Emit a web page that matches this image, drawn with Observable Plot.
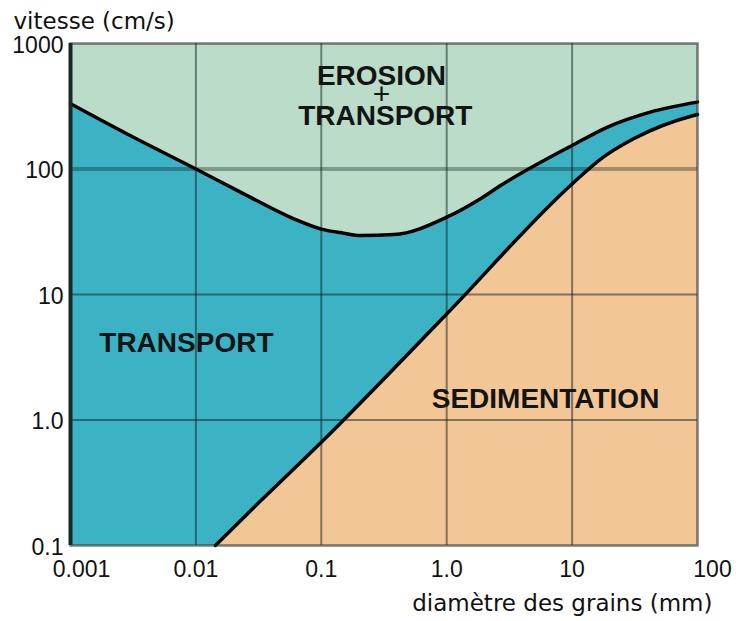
<!DOCTYPE html>
<html>
<head>
<meta charset="utf-8">
<script src="https://cdn.jsdelivr.net/npm/d3@7"></script>
<script src="https://cdn.jsdelivr.net/npm/@observablehq/plot@0.6"></script>
<style>
  body { margin: 0; background: #fff; }
  g[aria-label="titre"] text { letter-spacing: 1.4px; }
  g[aria-label="zones"] text { letter-spacing: 0.6px; }
</style>
</head>
<body>
<div id="chart"></div>
<script>
// Courbe d'érosion (limite supérieure)
const upperX = [0.001, 0.00283, 0.01, 0.0241, 0.0604, 0.1, 0.15, 0.206, 0.38, 1, 1.86, 2.69, 10, 19, 42, 100];
const upperY = [331, 190, 100, 63.4, 40.1, 33.2, 30.8, 29.5, 30, 41.3, 58, 73.8, 154, 215, 284, 341];
// Courbe de sédimentation (limite inférieure)
const lowerX = [0.0143, 0.0327, 0.1, 1, 10, 16.9, 30.9, 93, 100];
const lowerY = [0.1, 0.226, 0.665, 7.0, 76, 120, 174, 267, 272];

const xTicks = [0.001, 0.01, 0.1, 1, 10, 100];
const xTickLabels = ["0.001", "0.01", "0.1", "1.0", "10", "100"];
const yTicks = [0.1, 1, 10, 100, 1000];
const yTickLabels = ["0.1", "1.0", "10", "100", "1000"];

const zoneLabels = ["EROSION", "TRANSPORT", "TRANSPORT", "SEDIMENTATION"];
const zoneX = [0.302, 0.324, 0.0084, 6.14];
const zoneY = [546, 262, 4.07, 1.46];
const plusLabel = ["+"];
const plusX = [0.302];
const plusY = [390];

const yTitle = "vitesse (cm/s)";
const xTitle = "diamètre des grains (mm)";

const upper = upperX.map((x, i) => ({x, y: upperY[i]}));
const lower = lowerX.map((x, i) => ({x, y: lowerY[i]}));
const zones = zoneLabels.map((t, i) => ({t, x: zoneX[i], y: zoneY[i]}));
const plus = plusLabel.map((t, i) => ({t, x: plusX[i], y: plusY[i]}));

const xFmt = d => xTickLabels[xTicks.indexOf(d)];
const yFmt = d => yTickLabels[yTicks.indexOf(d)];
const axisOpts = {tickSize: 0, fontSize: 23, label: null, fill: "#111"};
const grid = {stroke: "#0f1f1f", strokeOpacity: 0.5, strokeWidth: 2};
const curve = "monotone-x";

const chart = Plot.plot({
  width: 736,
  height: 621,
  marginLeft: 70,
  marginRight: 39,
  marginTop: 43,
  marginBottom: 76,
  style: {background: "#fff", fontFamily: "'Liberation Sans', Arial, sans-serif", color: "#111"},
  x: {type: "log", domain: [0.001, 100]},
  y: {type: "log", domain: [0.1, 1000]},
  marks: [
    Plot.frame({fill: "#badcc8", stroke: null}),
    Plot.areaY(upper, {x: "x", y1: 0.1, y2: "y", fill: "#3bb3c5", curve}),
    Plot.areaY(lower, {x: "x", y1: 0.1, y2: "y", fill: "#f3c696", curve}),
    Plot.ruleX(xTicks.slice(1, -1), grid),
    Plot.ruleY([1, 10], grid),
    Plot.ruleY([100], {stroke: "#0f1f1f", strokeOpacity: 0.35, strokeWidth: 4}),
    Plot.line(upper, {x: "x", y: "y", stroke: "#000", strokeWidth: 3.5, curve}),
    Plot.line(lower, {x: "x", y: "y", stroke: "#000", strokeWidth: 3.5, curve}),
    Plot.frame({stroke: "#2a2a2a", strokeOpacity: 0.6, strokeWidth: 2.5}),
    Plot.ruleX([0.001], {stroke: "#162828", strokeWidth: 4}),
    Plot.text(zones, {
      x: "x", y: "y", text: "t",
      fontSize: 28, fontWeight: "bold", fill: "#141414", ariaLabel: "zones"
    }),
    Plot.text(plus, {
      x: "x", y: "y", text: "t",
      fontSize: 30, fontWeight: "normal", fill: "#141414"
    }),
    Plot.axisX([0.001], {...axisOpts, tickPadding: 15, dx: 11, tickFormat: xFmt}),
    Plot.axisX([0.01, 0.1, 1, 10], {...axisOpts, tickPadding: 15, tickFormat: xFmt}),
    Plot.axisX([100], {...axisOpts, tickPadding: 15, dx: 15, tickFormat: xFmt}),
    Plot.axisY(yTicks, {...axisOpts, tickPadding: 7, dy: 2, tickFormat: yFmt}),
    Plot.text([yTitle], {
      frameAnchor: "top-left", dx: -57, dy: -22, textAnchor: "start", lineAnchor: "middle",
      fontSize: 23, fontFamily: "'DejaVu Sans', sans-serif", fill: "#111", ariaLabel: "titre"
    }),
    Plot.text([xTitle], {
      frameAnchor: "bottom-right", dx: 15, dy: 58, textAnchor: "end", lineAnchor: "middle",
      fontSize: 23, fontFamily: "'DejaVu Sans', sans-serif", fill: "#111", ariaLabel: "titre"
    })
  ]
});
document.getElementById("chart").appendChild(chart);
</script>
</body>
</html>
